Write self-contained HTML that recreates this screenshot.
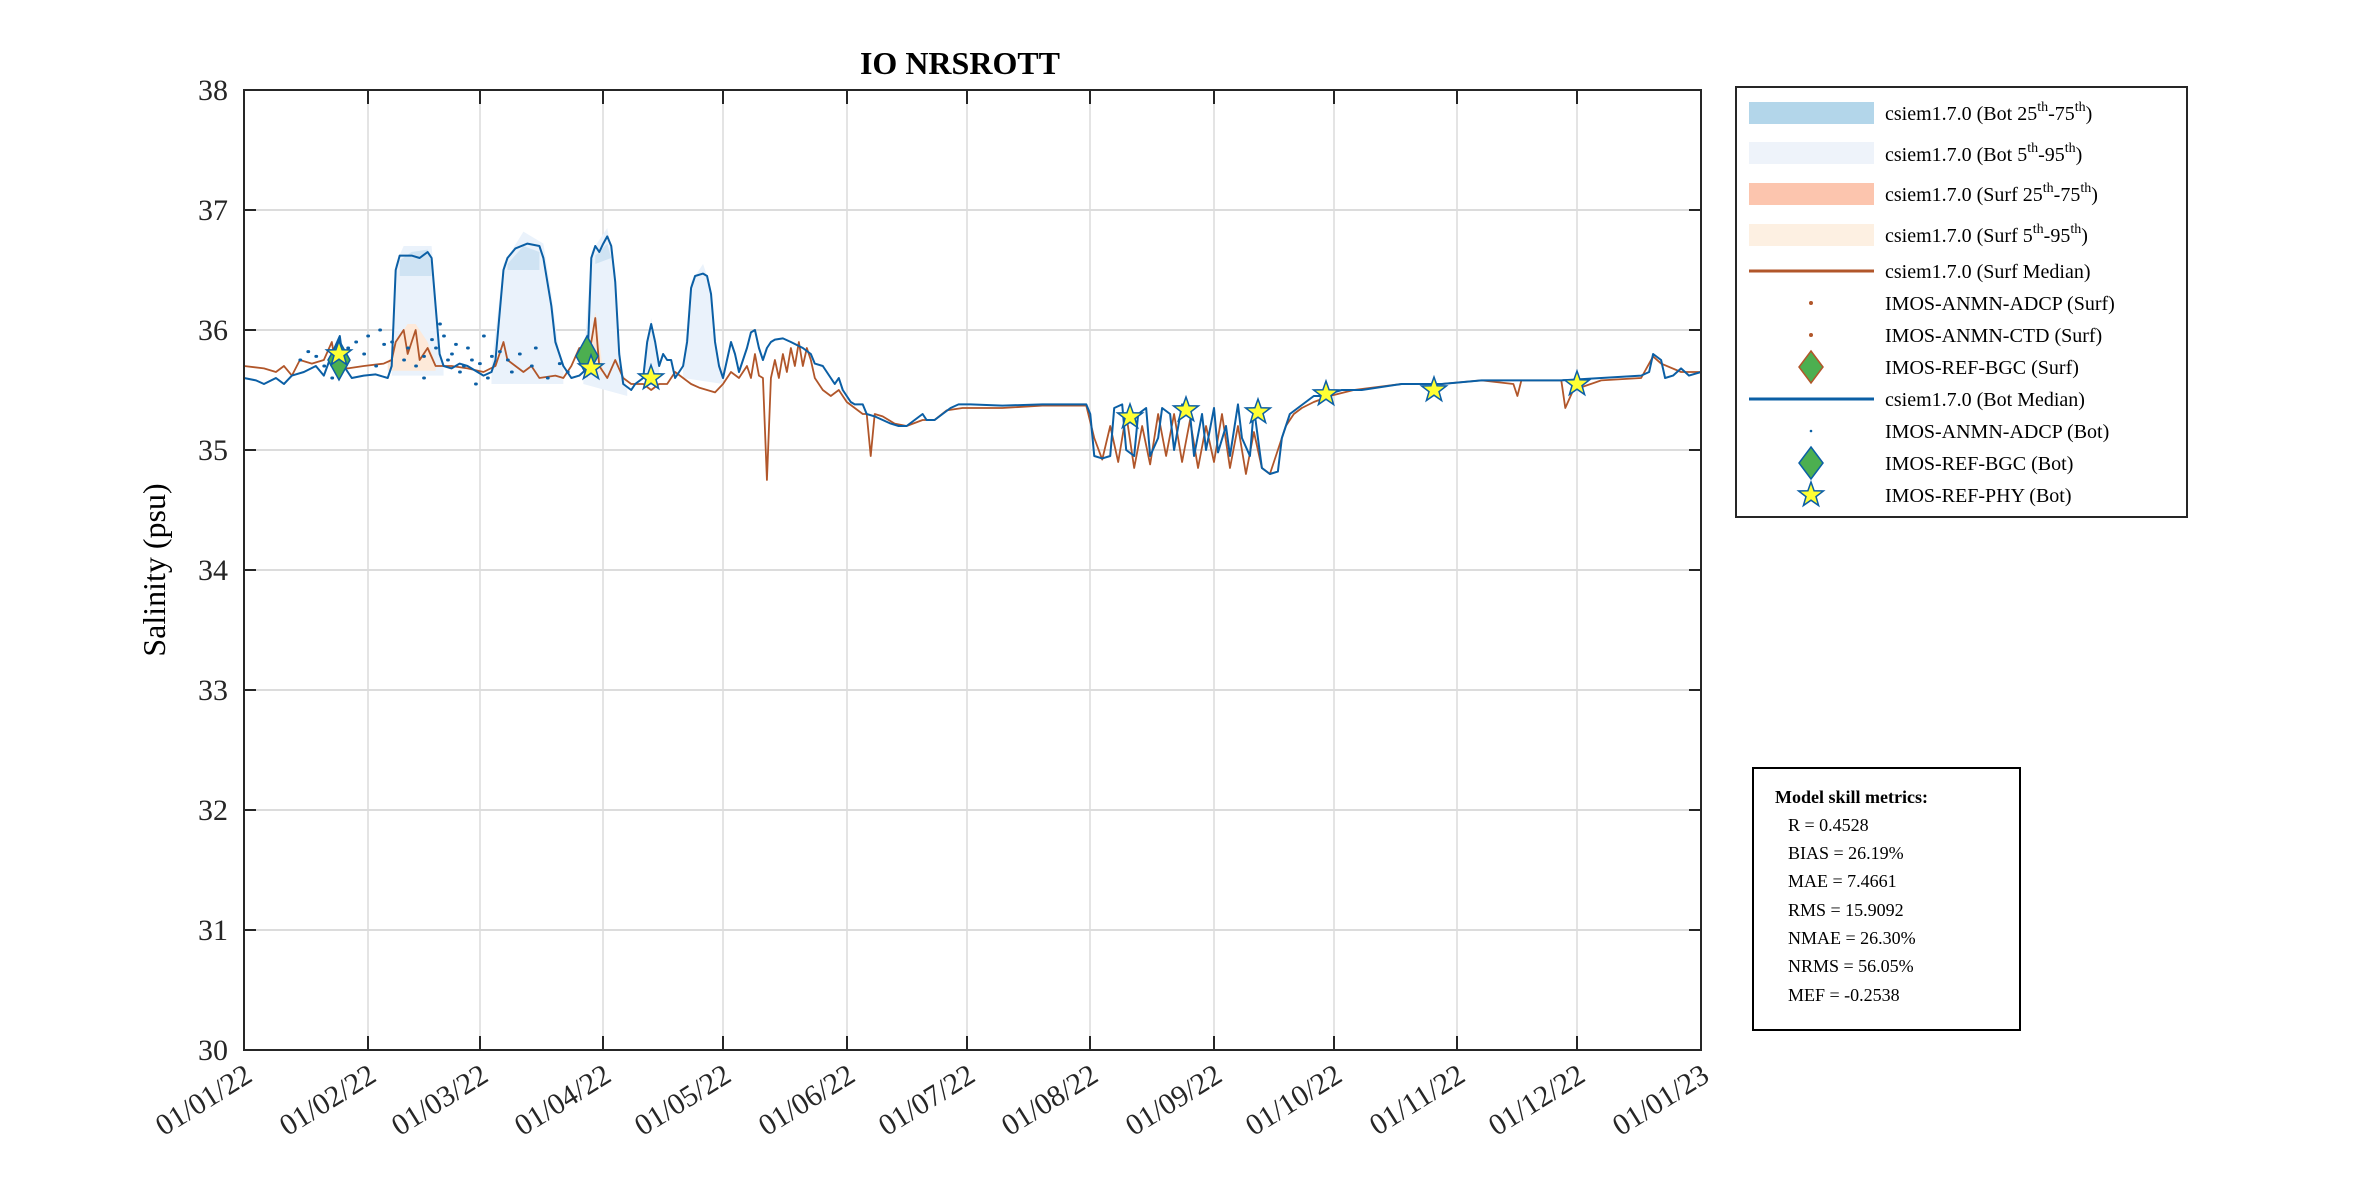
<!DOCTYPE html>
<html><head><meta charset="utf-8"><style>
html,body{margin:0;padding:0;background:#fff}
svg{display:block;font-family:"Liberation Serif",serif}
</style></head><body>
<svg width="2362" height="1181" viewBox="0 0 2362 1181" xmlns="http://www.w3.org/2000/svg">
<defs>
<path id="star" d="M0,-13 L3.1,-4.2 L12.4,-4 L5,1.6 L7.6,10.5 L0,5.2 L-7.6,10.5 L-5,1.6 L-12.4,-4 L-3.1,-4.2 Z" fill="#ffff33" stroke="#0b5fa5" stroke-width="1.5"/>
</defs>
<!-- grid -->
<g stroke="#dcdcdc" stroke-width="2">
<line x1="244" y1="210" x2="1701" y2="210"/><line x1="244" y1="330" x2="1701" y2="330"/><line x1="244" y1="450" x2="1701" y2="450"/><line x1="244" y1="570" x2="1701" y2="570"/><line x1="244" y1="690" x2="1701" y2="690"/><line x1="244" y1="810" x2="1701" y2="810"/><line x1="244" y1="930" x2="1701" y2="930"/>
</g>
<g stroke="#dcdcdc" stroke-width="1.5">
<line x1="368" y1="90" x2="368" y2="1050"/><line x1="480" y1="90" x2="480" y2="1050"/><line x1="603" y1="90" x2="603" y2="1050"/><line x1="723" y1="90" x2="723" y2="1050"/><line x1="847" y1="90" x2="847" y2="1050"/><line x1="967" y1="90" x2="967" y2="1050"/><line x1="1090" y1="90" x2="1090" y2="1050"/><line x1="1214" y1="90" x2="1214" y2="1050"/><line x1="1334" y1="90" x2="1334" y2="1050"/><line x1="1457" y1="90" x2="1457" y2="1050"/><line x1="1577" y1="90" x2="1577" y2="1050"/>
</g>
<!-- bands -->
<g transform="translate(244,1050) scale(3.9918,-120)">
<g fill="#eaf2fb">
<polygon points="37,5.7 38,6.55 40,6.7 47,6.7 48,6.3 49,5.8 50,5.7 50,5.62 37,5.62"/>
<polygon points="62,5.7 65,6.55 70,6.82 75,6.72 77,6.3 79,5.8 80,5.7 80,5.55 62,5.55"/>
<polygon points="85,5.7 87,6.65 91,6.85 93,6.5 94,5.8 96,5.5 96,5.45 85,5.55"/>
<polygon points="100,5.6 102,6.1 104,5.7 104,5.6"/>
<polygon points="110,5.7 112,6.4 115,6.55 117,6.35 118,5.9 120,5.6 120,5.55 110,5.6"/>
</g>
<g fill="#cfe3f3">
<polygon points="39,6.58 42,6.65 46,6.67 47,6.55 47,6.45 39,6.45"/>
<polygon points="66,6.55 70,6.7 74,6.65 74,6.5 66,6.5"/>
<polygon points="88,6.62 91,6.72 92,6.6 88,6.55"/>
</g>
<polygon fill="#fde9d9" points="36,5.72 39,5.95 41,6.05 43,6.05 46,5.9 48,5.72 48,5.66 36,5.66"/>
<polygon fill="#fde9d9" points="86,5.75 88,6.15 90,5.65 86,5.65"/>
</g>
<!-- series -->
<g transform="translate(244,1050) scale(3.9918,-120)" fill="none">
<polyline vector-effect="non-scaling-stroke" stroke="#b1562a" stroke-width="1.8" stroke-linejoin="round" points="0,5.7 5,5.68 8,5.65 10,5.7 12,5.62 14,5.75 17,5.72 20,5.75 22,5.9 23,5.7 26,5.68 30,5.7 35,5.72 37,5.75 38,5.9 40,6.0 41,5.8 43,6.0 44,5.75 46,5.85 48,5.7 52,5.7 56,5.68 60,5.65 63,5.7 65,5.9 66,5.75 68,5.7 70,5.65 72,5.7 74,5.6 78,5.62 80,5.6 82,5.7 84,5.85 85,5.7 86,5.75 87,5.9 88,6.1 89,5.7 90,5.65 91,5.6 93,5.75 95,5.6 97,5.55 100,5.55 102,5.5 104,5.55 106,5.55 108,5.65 110,5.6 112,5.55 114,5.52 116,5.5 118,5.48 120,5.55 122,5.65 124,5.6 126,5.7 127,5.6 128,5.8 129,5.62 130,5.6 131,4.75 132,5.6 133,5.75 134,5.6 135,5.8 136,5.65 137,5.85 138,5.7 139,5.9 140,5.7 141,5.85 142,5.75 143,5.6 145,5.5 147,5.45 149,5.5 151,5.4 153,5.35 155,5.3 156,5.3 157,4.95 158,5.3 160,5.28 163,5.22 166,5.2 170,5.25 173,5.25 176,5.33 180,5.35 190,5.35 200,5.37 211,5.37 213,5.1 215,4.92 217,5.2 219,4.9 221,5.3 223,4.85 225,5.2 227,4.88 229,5.3 231,4.95 233,5.3 235,4.9 237,5.25 239,4.85 241,5.2 243,4.9 245,5.3 247,4.85 249,5.2 251,4.8 253,5.15 255,4.85 257,4.8 259,5.0 261,5.2 263,5.3 265,5.35 268,5.4 272,5.45 278,5.5 290,5.55 300,5.55 310,5.58 318,5.55 319,5.45 320,5.58 330,5.58 331,5.35 333,5.5 340,5.58 350,5.6 353,5.78 355,5.72 360,5.65 365,5.65"/>
<polyline vector-effect="non-scaling-stroke" stroke="#0b5fa5" stroke-width="2" stroke-linejoin="round" points="0,5.6 3,5.58 5,5.55 8,5.6 10,5.55 12,5.62 15,5.65 18,5.7 20,5.62 22,5.8 24,5.95 25,5.7 27,5.6 30,5.62 33,5.63 36,5.6 37,5.7 38,6.5 39,6.62 42,6.62 44,6.6 46,6.65 47,6.6 48,6.2 49,5.8 50,5.7 52,5.68 54,5.72 56,5.7 60,5.62 62,5.65 63,5.75 65,6.5 66,6.6 68,6.68 71,6.72 74,6.7 75,6.6 77,6.2 78,5.9 80,5.7 82,5.6 84,5.62 85,5.65 86,5.7 87,6.6 88,6.7 89,6.65 90,6.72 91,6.78 92,6.7 93,6.4 94,5.8 95,5.55 97,5.5 98,5.55 100,5.6 101,5.9 102,6.05 103,5.9 104,5.7 105,5.8 106,5.75 107,5.75 108,5.6 110,5.7 111,5.9 112,6.35 113,6.45 115,6.47 116,6.45 117,6.3 118,5.9 119,5.7 120,5.6 121,5.75 122,5.9 123,5.8 124,5.65 126,5.85 127,5.98 128,6.0 129,5.85 130,5.75 131,5.85 132,5.9 133,5.92 135,5.93 137,5.9 140,5.85 142,5.8 143,5.72 145,5.7 147,5.6 148,5.55 149,5.6 150,5.5 151,5.45 152,5.4 153,5.38 155,5.38 156,5.3 158,5.28 160,5.25 162,5.22 164,5.2 166,5.2 168,5.25 170,5.3 171,5.25 173,5.25 175,5.3 177,5.35 179,5.38 182,5.38 190,5.37 200,5.38 211,5.38 212,5.3 213,4.95 215,4.93 217,4.95 218,5.35 220,5.38 221,5.0 223,4.95 224,5.3 226,5.35 227,4.95 229,5.1 230,5.35 232,5.3 233,5.0 235,5.38 237,5.3 238,4.95 240,5.3 241,5.0 243,5.35 244,4.98 246,5.2 247,4.95 249,5.38 250,5.1 252,4.95 253,5.35 255,4.85 257,4.8 259,4.82 260,5.1 262,5.3 264,5.35 266,5.4 268,5.45 270,5.45 272,5.47 275,5.5 280,5.5 290,5.55 300,5.55 310,5.58 320,5.58 330,5.58 340,5.6 350,5.62 352,5.65 353,5.8 355,5.75 356,5.6 358,5.62 360,5.68 362,5.62 365,5.65"/>
<path vector-effect="non-scaling-stroke" stroke="#0b5fa5" stroke-width="3" stroke-linecap="round" d="M14,5.75h.2M16,5.82h.2M18,5.78h.2M20,5.7h.2M26,5.85h.2M28,5.9h.2M30,5.8h.2M31,5.95h.2M33,5.7h.2M35,5.88h.2M37,5.9h.2M40,5.75h.2M41,5.85h.2M45,5.78h.2M47,5.92h.2M48,5.85h.2M50,5.95h.2M51,5.75h.2M52,5.8h.2M54,5.65h.2M55,5.7h.2M56,5.85h.2M57,5.75h.2M58,5.55h.2M59,5.72h.2M61,5.6h.2M62,5.78h.2M64,5.82h.2M66,5.75h.2M67,5.65h.2M69,5.8h.2M72,5.7h.2M73,5.85h.2M76,5.6h.2M79,5.72h.2M81,5.65h.2M45,5.6h.2M43,5.7h.2M24,5.65h.2M22,5.6h.2M60,5.95h.2M53,5.88h.2M34,6.0h.2M49,6.05h.2"/>
</g>
<!-- markers -->
<polygon points="339,340 350,360 339,380 328,360" fill="#4caf50" stroke="#0b5fa5" stroke-width="1.5"/>
<polygon points="587,336 598,356 587,376 576,356" fill="#4caf50" stroke="#0b5fa5" stroke-width="1.5"/>
<use href="#star" x="339" y="354"/><use href="#star" x="591" y="368"/><use href="#star" x="651" y="378"/><use href="#star" x="1130" y="417"/><use href="#star" x="1186" y="410"/><use href="#star" x="1258" y="412"/><use href="#star" x="1326" y="394"/><use href="#star" x="1434" y="390"/><use href="#star" x="1577" y="384"/>
<!-- axes box -->
<rect x="244" y="90" width="1457" height="960" fill="none" stroke="#262626" stroke-width="2"/>
<g stroke="#262626" stroke-width="2">
<path d="M244,210h12M244,330h12M244,450h12M244,570h12M244,690h12M244,810h12M244,930h12M1701,210h-12M1701,330h-12M1701,450h-12M1701,570h-12M1701,690h-12M1701,810h-12M1701,930h-12"/>
<path d="M368,90v14M480,90v14M603,90v14M723,90v14M847,90v14M967,90v14M1090,90v14M1214,90v14M1334,90v14M1457,90v14M1577,90v14M368,1050v-14M480,1050v-14M603,1050v-14M723,1050v-14M847,1050v-14M967,1050v-14M1090,1050v-14M1214,1050v-14M1334,1050v-14M1457,1050v-14M1577,1050v-14"/>
</g>
<!-- y labels -->
<g font-size="30" fill="#262626" text-anchor="end">
<text x="228" y="100">38</text><text x="228" y="220">37</text><text x="228" y="340">36</text><text x="228" y="460">35</text><text x="228" y="580">34</text><text x="228" y="700">33</text><text x="228" y="820">32</text><text x="228" y="940">31</text><text x="228" y="1060">30</text>
</g>
<text transform="translate(165,570) rotate(-90)" font-size="32" text-anchor="middle" fill="#000">Salinity (psu)</text>
<text x="960" y="74" font-size="32" font-weight="bold" text-anchor="middle" fill="#000">IO NRSROTT</text>
<!-- x labels -->
<g font-size="30" fill="#262626" text-anchor="end">
<text transform="translate(254,1080) rotate(-32)">01/01/22</text>
<text transform="translate(378,1080) rotate(-32)">01/02/22</text>
<text transform="translate(490,1080) rotate(-32)">01/03/22</text>
<text transform="translate(613,1080) rotate(-32)">01/04/22</text>
<text transform="translate(733,1080) rotate(-32)">01/05/22</text>
<text transform="translate(857,1080) rotate(-32)">01/06/22</text>
<text transform="translate(977,1080) rotate(-32)">01/07/22</text>
<text transform="translate(1100,1080) rotate(-32)">01/08/22</text>
<text transform="translate(1224,1080) rotate(-32)">01/09/22</text>
<text transform="translate(1344,1080) rotate(-32)">01/10/22</text>
<text transform="translate(1467,1080) rotate(-32)">01/11/22</text>
<text transform="translate(1587,1080) rotate(-32)">01/12/22</text>
<text transform="translate(1711,1080) rotate(-32)">01/01/23</text>
</g>
<!-- legend -->
<rect x="1736" y="87" width="451" height="430" fill="#fff" stroke="#262626" stroke-width="2"/>
<rect x="1749" y="102" width="125" height="22" fill="#b3d6ea"/>
<rect x="1749" y="142" width="125" height="22" fill="#eef3fa"/>
<rect x="1749" y="183" width="125" height="22" fill="#fcc5ae"/>
<rect x="1749" y="224" width="125" height="22" fill="#fdf0e2"/>
<line x1="1749" y1="271" x2="1874" y2="271" stroke="#b1562a" stroke-width="3"/>
<circle cx="1811" cy="303" r="2" fill="#b1562a"/>
<circle cx="1811" cy="335" r="2" fill="#b1562a"/>
<polygon points="1811,351 1823,367 1811,383 1799,367" fill="#4caf50" stroke="#b1562a" stroke-width="1.5"/>
<line x1="1749" y1="399" x2="1874" y2="399" stroke="#0b5fa5" stroke-width="3"/>
<circle cx="1811" cy="431" r="1.3" fill="#0b5fa5"/>
<polygon points="1811,447 1823,463 1811,479 1799,463" fill="#4caf50" stroke="#0b5fa5" stroke-width="1.5"/>
<use href="#star" x="1811" y="495"/>
<g font-size="20" fill="#000">
<text x="1885" y="120">csiem1.7.0 (Bot 25<tspan font-size="14" dy="-9">th</tspan><tspan dy="9">-75</tspan><tspan font-size="14" dy="-9">th</tspan><tspan dy="9">)</tspan></text>
<text x="1885" y="161">csiem1.7.0 (Bot 5<tspan font-size="14" dy="-9">th</tspan><tspan dy="9">-95</tspan><tspan font-size="14" dy="-9">th</tspan><tspan dy="9">)</tspan></text>
<text x="1885" y="201">csiem1.7.0 (Surf 25<tspan font-size="14" dy="-9">th</tspan><tspan dy="9">-75</tspan><tspan font-size="14" dy="-9">th</tspan><tspan dy="9">)</tspan></text>
<text x="1885" y="242">csiem1.7.0 (Surf 5<tspan font-size="14" dy="-9">th</tspan><tspan dy="9">-95</tspan><tspan font-size="14" dy="-9">th</tspan><tspan dy="9">)</tspan></text>
<text x="1885" y="278">csiem1.7.0 (Surf Median)</text>
<text x="1885" y="310">IMOS-ANMN-ADCP (Surf)</text>
<text x="1885" y="342">IMOS-ANMN-CTD (Surf)</text>
<text x="1885" y="374">IMOS-REF-BGC (Surf)</text>
<text x="1885" y="406">csiem1.7.0 (Bot Median)</text>
<text x="1885" y="438">IMOS-ANMN-ADCP (Bot)</text>
<text x="1885" y="470">IMOS-REF-BGC (Bot)</text>
<text x="1885" y="502">IMOS-REF-PHY (Bot)</text>
</g>
<!-- metrics -->
<rect x="1753" y="768" width="267" height="262" fill="#fff" stroke="#000" stroke-width="2"/>
<g font-size="18" fill="#000" xml:space="preserve">
<text x="1775" y="803" font-weight="bold">Model skill metrics:</text>
<text x="1788" y="831">R    = 0.4528</text>
<text x="1788" y="859">BIAS = 26.19%</text>
<text x="1788" y="887">MAE  = 7.4661</text>
<text x="1788" y="916">RMS  = 15.9092</text>
<text x="1788" y="944">NMAE = 26.30%</text>
<text x="1788" y="972">NRMS = 56.05%</text>
<text x="1788" y="1001">MEF  = -0.2538</text>
</g>
</svg>
</body></html>
